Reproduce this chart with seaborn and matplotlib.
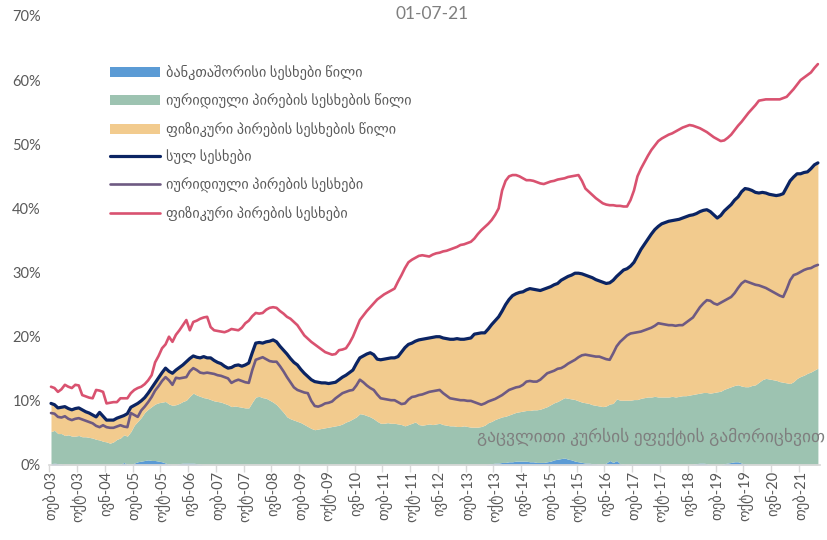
import matplotlib
matplotlib.use("Agg")
import matplotlib.pyplot as plt
import seaborn as sns
import pandas as pd
import numpy as np

# monthly values, Feb-2003 .. Jul-2021 (%)
total_loans = [
    9.6, 9.4, 8.9, 9.0, 9.1, 8.8, 8.6, 8.8, 8.9, 8.6,
    8.3, 8.1, 7.8, 7.5, 8.2, 7.6, 7.0, 7.0, 7.0, 7.3,
    7.5, 7.7, 8.0, 9.0, 9.3, 9.6, 10.0, 10.5, 11.2, 12.0,
    12.8, 13.6, 14.4, 15.1, 14.6, 14.3, 14.8, 15.2, 15.6, 16.1,
    16.6, 17.0, 16.8, 16.7, 16.9, 16.7, 16.7, 16.3, 16.0, 15.8,
    15.4, 15.1, 15.2, 15.5, 15.6, 15.4, 15.6, 15.9, 17.5, 19.0,
    19.1, 19.0, 19.2, 19.3, 19.5, 19.2, 18.5, 17.9, 17.3, 16.6,
    16.0, 15.6, 14.9, 14.3, 13.8, 13.3, 13.0, 12.9, 12.8, 12.8,
    12.7, 12.8, 12.9, 13.3, 13.7, 14.0, 14.4, 14.8, 15.8, 16.7,
    17.0, 17.3, 17.5, 17.2, 16.5, 16.4, 16.5, 16.6, 16.7, 16.7,
    16.9, 17.6, 18.3, 18.8, 19.0, 19.3, 19.5, 19.6, 19.7, 19.8,
    19.9, 20.0, 20.0, 19.8, 19.7, 19.6, 19.6, 19.7, 19.6, 19.6,
    19.7, 19.8, 20.4, 20.5, 20.6, 20.6, 21.2, 21.9, 22.5, 23.1,
    24.0, 25.0, 25.8, 26.4, 26.7, 26.9, 27.0, 27.3, 27.5, 27.4,
    27.3, 27.2, 27.4, 27.6, 27.8, 28.1, 28.3, 28.8, 29.1, 29.4,
    29.6, 29.9, 29.9, 29.8, 29.6, 29.4, 29.2, 28.9, 28.7, 28.5,
    28.3, 28.4, 28.8, 29.4, 29.9, 30.4, 30.6, 31.0, 31.6, 32.6,
    33.6, 34.4, 35.2, 36.0, 36.7, 37.2, 37.6, 37.8, 38.0, 38.1,
    38.2, 38.3, 38.5, 38.7, 38.9, 39.0, 39.2, 39.5, 39.7, 39.8,
    39.5, 39.0, 38.5, 38.9, 39.6, 40.1, 40.6, 41.3, 41.8, 42.6,
    43.1, 43.0, 42.8, 42.5, 42.4, 42.5, 42.4, 42.2, 42.1, 42.0,
    42.1, 42.3, 43.3, 44.3, 44.9, 45.4, 45.4, 45.6, 45.7, 46.2,
    46.8, 47.1,
]

legal_loans = [
    8.1, 8.0, 7.5, 7.4, 7.6, 7.2, 7.0, 7.2, 7.3, 7.1,
    6.9, 6.7, 6.5, 6.1, 5.9, 6.2, 5.9, 5.8, 5.8, 6.0,
    6.2, 6.0, 5.9, 8.1, 7.8, 7.5, 8.5, 9.1, 9.8, 10.6,
    11.6, 12.3, 13.1, 13.7, 13.2, 12.5, 13.6, 13.5, 13.6, 13.7,
    14.6, 15.1, 14.8, 14.4, 14.3, 14.4, 14.3, 14.2, 14.0, 13.9,
    13.7, 13.5, 12.8, 13.1, 13.3, 13.1, 12.9, 12.8, 14.8, 16.4,
    16.6, 16.8, 16.5, 16.2, 16.1, 16.1, 15.4, 14.6, 13.7, 12.9,
    12.1, 11.7, 11.5, 11.3, 11.2, 10.0, 9.2, 9.1, 9.3, 9.6,
    9.7, 9.9, 10.4, 10.8, 11.2, 11.4, 11.6, 11.7, 12.4, 13.3,
    12.9, 12.4, 12.0, 11.7, 11.0, 10.4, 10.3, 10.2, 10.1, 10.1,
    9.8, 9.5, 9.6, 10.2, 10.6, 10.7, 10.9, 11.0, 11.2, 11.4,
    11.5, 11.6, 11.7, 11.2, 10.8, 10.4, 10.3, 10.2, 10.1, 10.1,
    10.0, 10.0, 9.8, 9.6, 9.4, 9.6, 9.9, 10.1, 10.3, 10.6,
    10.9, 11.3, 11.7, 11.9, 12.1, 12.2, 12.5, 13.0, 13.1, 13.0,
    13.0, 13.3, 13.8, 14.3, 14.5, 14.7, 15.0, 15.1, 15.4, 15.8,
    16.1, 16.4, 16.8, 17.1, 17.2, 17.1, 17.0, 16.9, 16.9, 16.7,
    16.5, 16.4, 17.4, 18.5, 19.2, 19.7, 20.2, 20.5, 20.6, 20.7,
    20.8, 21.0, 21.2, 21.4, 21.7, 22.1, 22.0, 21.9, 21.8, 21.8,
    21.7, 21.8, 21.8, 22.2, 22.6, 23.0, 23.8, 24.6, 25.2, 25.7,
    25.6, 25.2, 25.0, 25.3, 25.6, 25.9, 26.2, 26.8, 27.6, 28.3,
    28.7, 28.5, 28.3, 28.1, 28.0, 27.8, 27.6, 27.3, 27.0, 26.7,
    26.4, 26.2, 27.4, 28.8, 29.6, 29.8, 30.1, 30.4, 30.6, 30.7,
    31.0, 31.2,
]

physical_loans = [
    12.2, 12.0, 11.4, 11.8, 12.5, 12.2, 12.0, 12.5, 12.4, 10.9,
    10.7, 10.5, 10.4, 11.7, 11.6, 11.4, 9.6, 9.7, 9.8, 9.8,
    10.4, 10.4, 10.4, 11.2, 11.7, 12.0, 12.2, 12.6, 13.2, 14.0,
    16.0, 17.0, 18.2, 18.8, 20.0, 19.2, 20.3, 21.0, 21.8, 22.6,
    21.0, 22.3, 22.5, 22.8, 23.0, 23.1, 21.5, 21.0, 20.9, 20.8,
    20.7, 20.9, 21.2, 21.1, 21.0, 21.4, 22.1, 22.5, 23.2, 23.7,
    23.6, 23.7, 24.2, 24.5, 24.6, 24.5, 24.0, 23.6, 23.1, 22.8,
    22.3, 21.8, 21.0, 20.2, 19.7, 19.2, 18.8, 18.4, 18.0, 17.6,
    17.4, 17.2, 17.3, 17.9, 18.0, 18.2, 19.0, 20.0, 21.3, 22.6,
    23.3, 24.0, 24.6, 25.2, 25.8, 26.2, 26.6, 26.9, 27.2, 27.5,
    28.6, 29.6, 30.7, 31.6, 32.0, 32.3, 32.6, 32.7, 32.6, 32.5,
    32.8, 33.0, 33.1, 33.3, 33.4, 33.6, 33.8, 34.0, 34.3, 34.4,
    34.6, 34.8, 35.3, 36.0, 36.6, 37.1, 37.6, 38.2, 39.0, 40.0,
    42.8, 44.3, 45.0, 45.2, 45.2, 45.0, 44.7, 44.4, 44.4, 44.3,
    44.1, 43.9, 43.8, 44.0, 44.2, 44.3, 44.5, 44.6, 44.7, 44.9,
    45.0, 45.1, 45.2, 44.3, 43.1, 42.6, 42.1, 41.6, 41.2, 40.8,
    40.6, 40.5, 40.5, 40.4, 40.4, 40.3, 40.3, 41.3, 42.8, 45.0,
    46.2, 47.2, 48.2, 49.1, 49.8, 50.5, 50.9, 51.2, 51.5, 51.7,
    52.0, 52.3, 52.6, 52.8, 53.0, 52.9, 52.7, 52.5, 52.2, 51.9,
    51.5, 51.1, 50.8, 50.5, 50.6, 51.0, 51.5, 52.2, 52.9, 53.5,
    54.2, 54.9, 55.5, 56.1, 56.8, 56.9, 57.0, 57.0, 57.0, 57.0,
    57.0, 57.2, 57.4, 58.0, 58.6, 59.3, 60.0, 60.4, 60.8, 61.2,
    61.9, 62.5,
]

interbank_share = [
    0.2, 0.3, 0.2, 0.1, 0.0, 0.0, 0.0, 0.0, 0.0, 0.0,
    0.0, 0.0, 0.0, 0.0, 0.0, 0.0, 0.0, 0.0, 0.0, 0.0,
    0.1, 0.4, 0.1, 0.0, 0.3, 0.5, 0.6, 0.7, 0.8, 0.7,
    0.7, 0.6, 0.5, 0.3, 0.1, 0.0, 0.0, 0.2, 0.3, 0.3,
    0.3, 0.3, 0.2, 0.1, 0.0, 0.0, 0.0, 0.0, 0.0, 0.0,
    0.0, 0.0, 0.0, 0.0, 0.0, 0.0, 0.0, 0.0, 0.0, 0.0,
    0.0, 0.0, 0.0, 0.0, 0.0, 0.0, 0.0, 0.0, 0.0, 0.0,
    0.0, 0.0, 0.0, 0.0, 0.0, 0.0, 0.0, 0.0, 0.0, 0.0,
    0.0, 0.0, 0.0, 0.0, 0.0, 0.0, 0.0, 0.0, 0.0, 0.0,
    0.0, 0.0, 0.0, 0.0, 0.0, 0.0, 0.0, 0.0, 0.0, 0.0,
    0.0, 0.0, 0.0, 0.0, 0.0, 0.0, 0.0, 0.0, 0.0, 0.0,
    0.0, 0.0, 0.0, 0.0, 0.0, 0.0, 0.0, 0.0, 0.0, 0.0,
    0.0, 0.0, 0.0, 0.0, 0.0, 0.0, 0.1, 0.2, 0.3, 0.3,
    0.4, 0.4, 0.5, 0.5, 0.6, 0.6, 0.6, 0.6, 0.5, 0.5,
    0.4, 0.4, 0.4, 0.5, 0.6, 0.8, 0.9, 1.0, 1.1, 0.9,
    0.8, 0.6, 0.5, 0.4, 0.3, 0.3, 0.2, 0.2, 0.1, 0.1,
    0.3, 0.7, 0.4, 0.7, 0.2, 0.1, 0.0, 0.1, 0.1, 0.1,
    0.2, 0.2, 0.2, 0.2, 0.2, 0.2, 0.1, 0.0, 0.0, 0.0,
    0.0, 0.0, 0.0, 0.0, 0.0, 0.1, 0.2, 0.3, 0.3, 0.2,
    0.0, 0.0, 0.0, 0.0, 0.2, 0.3, 0.4, 0.5, 0.5, 0.3,
    0.1, 0.0, 0.0, 0.0, 0.0, 0.0, 0.0, 0.0, 0.0, 0.0,
    0.0, 0.0, 0.0, 0.0, 0.0, 0.0, 0.0, 0.0, 0.0, 0.0,
    0.0, 0.0,
]

legal_share = [
    5.0, 5.1, 4.7, 4.8, 4.6, 4.7, 4.5, 4.5, 4.6, 4.4,
    4.4, 4.3, 4.2, 4.0, 3.9, 3.7, 3.6, 3.4, 3.6, 4.0,
    4.1, 4.3, 4.4, 5.2, 5.9, 6.3, 6.8, 7.5, 7.9, 8.4,
    8.8, 9.1, 9.3, 9.6, 9.4, 9.3, 9.4, 9.4, 9.6, 9.8,
    10.4, 10.9, 10.7, 10.6, 10.5, 10.4, 10.2, 10.0, 9.9, 9.8,
    9.6, 9.4, 9.1, 9.2, 9.1, 9.0, 8.9, 8.9, 9.8, 10.6,
    10.7, 10.5, 10.4, 10.1, 9.8, 9.4, 8.8, 8.2, 7.5, 7.2,
    7.0, 6.8, 6.6, 6.3, 6.0, 5.7, 5.5, 5.6, 5.7, 5.8,
    5.9, 6.0, 6.1, 6.2, 6.4, 6.7, 6.9, 7.2, 7.5, 8.0,
    7.9, 7.7, 7.5, 7.2, 6.8, 6.5, 6.5, 6.6, 6.5, 6.5,
    6.4, 6.3, 6.1, 6.3, 6.5, 6.7, 6.3, 6.2, 6.3, 6.4,
    6.3, 6.4, 6.5, 6.3, 6.2, 6.1, 6.1, 6.0, 6.0, 6.1,
    6.0, 5.9, 5.9, 5.9, 6.0, 6.2, 6.5, 6.6, 6.8, 7.0,
    7.1, 7.2, 7.3, 7.5, 7.6, 7.7, 7.8, 7.9, 8.0, 8.1,
    8.2, 8.3, 8.5, 8.6, 8.8, 8.9, 9.0, 9.2, 9.4, 9.5,
    9.5, 9.6, 9.5, 9.4, 9.4, 9.3, 9.2, 9.1, 9.1, 9.0,
    8.9, 8.8, 9.2, 9.6, 9.9, 10.0, 10.1, 10.0, 10.1, 10.1,
    10.2, 10.3, 10.4, 10.4, 10.5, 10.4, 10.5, 10.6, 10.6, 10.7,
    10.6, 10.7, 10.8, 10.8, 10.9, 10.9, 10.9, 10.9, 11.0, 11.1,
    11.2, 11.3, 11.4, 11.5, 11.6, 11.7, 11.8, 11.9, 12.0, 12.0,
    12.1, 12.2, 12.4, 12.5, 12.9, 13.3, 13.5, 13.4, 13.3, 13.2,
    13.0, 12.9, 12.8, 12.7, 13.0, 13.5, 13.8, 14.0, 14.3, 14.5,
    14.8, 15.1,
]

# x tick labels, every 8 months starting Feb-2003
tick_labels = [
    "თებ-03", "ოქტ-03", "ივნ-04", "თებ-05", "ოქტ-05", "ივნ-06", "თებ-07",
    "ოქტ-07", "ივნ-08", "თებ-09", "ოქტ-09", "ივნ-10", "თებ-11", "ოქტ-11",
    "ივნ-12", "თებ-13", "ოქტ-13", "ივნ-14", "თებ-15", "ოქტ-15", "ივნ-16",
    "თებ-17", "ოქტ-17", "ივნ-18", "თებ-19", "ოქტ-19", "ივნ-20", "თებ-21",
]
y_ticks = [0, 10, 20, 30, 40, 50, 60, 70]

series_names = [
    "ბანკთაშორისი სესხები წილი",
    "იურიდიული პირების სესხების წილი",
    "ფიზიკური პირების სესხების წილი",
    "სულ სესხები",
    "იურიდიული პირების სესხები",
    "ფიზიკური პირების სესხები",
]

BLUE = "#5B9BD5"
GREEN = "#9DC3B1"
ORANGE = "#F2CB8E"
NAVY = "#0B2463"
PURPLE = "#6E5A82"
PINK = "#D95270"
GREY = "#595959"

sns.set_theme(style="white")
plt.rcParams["font.family"] = ["Lato", "DejaVu Sans"]

n = len(total_loans)
df = pd.DataFrame({
    "m": np.arange(n),
    "total": total_loans,
    "legal": legal_loans,
    "physical": physical_loans,
    "interbank_share": interbank_share,
    "legal_share": legal_share,
})
# the remaining part of the stack up to the total line
df["physical_share"] = df["total"] - df["legal_share"] - df["interbank_share"]

fig, ax = plt.subplots(figsize=(8.28, 5.4), dpi=100)
fig.subplots_adjust(left=0.0595, right=0.9899, bottom=0.1389, top=0.9704)

areas = ax.stackplot(df["m"], df["interbank_share"], df["legal_share"], df["physical_share"],
                     colors=[BLUE, GREEN, ORANGE], linewidth=0)

sns.lineplot(data=df, x="m", y="total", color=NAVY, linewidth=2.3, ax=ax)
sns.lineplot(data=df, x="m", y="legal", color=PURPLE, linewidth=1.9, ax=ax)
sns.lineplot(data=df, x="m", y="physical", color=PINK, linewidth=1.9, ax=ax)

ax.set_xlim(-0.5, n - 0.5)
ax.set_ylim(0, 70)
ax.set_xlabel("")
ax.set_ylabel("")

ax.set_xticks(np.arange(0, n, 8))
ax.set_xticklabels(tick_labels, rotation=90, fontsize=10.5, color=GREY)
ax.set_xticks(np.arange(-0.5, n, 8), minor=True)
ax.tick_params(axis="x", which="major", length=0, pad=4)
ax.tick_params(axis="x", which="minor", bottom=True, length=5, width=1, color="#D9D9D9", direction="out")

ax.set_yticks(y_ticks)
ax.set_yticklabels([f"{v}%" for v in y_ticks], fontsize=10.5, color=GREY)
ax.tick_params(axis="y", length=0, pad=6)

for side in ["top", "right", "left"]:
    ax.spines[side].set_visible(False)
ax.spines["bottom"].set_color("#D9D9D9")
ax.grid(False)

# title sits level with the top gridline, as in the source
fig.text(432 / 828, 1 - 14 / 540, "01-07-21", ha="center", va="center",
         fontsize=12.5, color="#7F7F7F")

handles = list(areas) + ax.get_lines()[:3]
ax.legend(handles, series_names, loc="upper left", bbox_to_anchor=(0.079, 0.89),
          frameon=False, fontsize=10.3, labelcolor=GREY, handlelength=3.5,
          handletextpad=0.4, labelspacing=0.9, borderpad=0, borderaxespad=0)

fig.text(825 / 828, 1 - 437 / 540, "გაცვლითი კურსის ეფექტის გამორიცხვით",
         ha="right", va="center", fontsize=12.6, color="#7F7F7F")

fig.savefig("out.png", dpi=100)
